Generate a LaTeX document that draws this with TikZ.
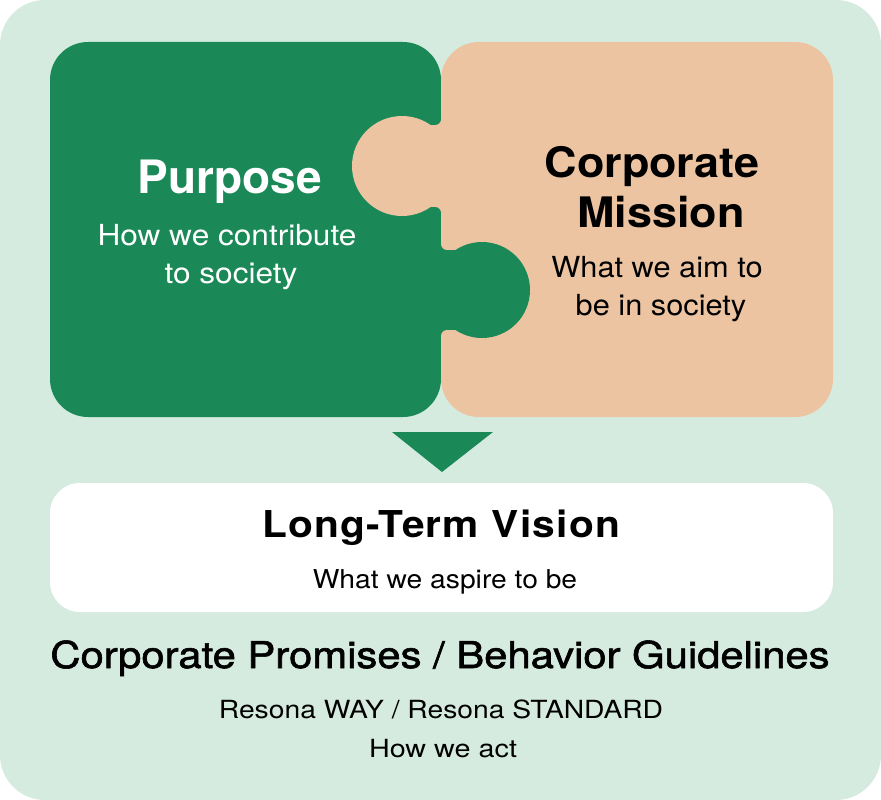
\documentclass[tikz,border=0pt]{standalone}
\usepackage{fontspec}
\setmainfont{TeX Gyre Heros}
\newfontfamily\medfont[FakeBold=1.5]{TeX Gyre Heros}
\newfontfamily\lsbold[LetterSpace=3]{TeX Gyre Heros}
\definecolor{bgmint}{HTML}{D6EBE0}
\definecolor{pgreen}{HTML}{1B8957}
\definecolor{peach}{HTML}{ECC4A2}
\newcommand{\wide}[2]{\scalebox{#1}[1]{#2}}
\begin{document}
\begin{tikzpicture}[x=1pt,y=-1pt,
  txt/.style={anchor=base, inner sep=0pt, outer sep=0pt},
  gtitle/.style={txt, text=white, font=\bfseries\fontsize{46}{46}\selectfont},
  gsub/.style={txt, text=white, font=\fontsize{29}{29}\selectfont},
  otitle/.style={txt, text=black, font=\bfseries\fontsize{42}{42}\selectfont},
  osub/.style={txt, text=black, font=\fontsize{29}{29}\selectfont},
  small/.style={txt, text=black, font=\fontsize{25}{25}\selectfont}]
\useasboundingbox (0,0) rectangle (881,800);
% background
\fill[bgmint, rounded corners=45pt] (0,0) rectangle (881,800);
% puzzle pieces
\fill[pgreen, rounded corners=38pt] (50,42) rectangle (441,417);
\fill[peach, rounded corners=38pt] (441,42) rectangle (833,417);
% peach tab into green
\fill[peach] (402,166) circle[radius=50pt];
\fill[peach] (405,125) rectangle (441,207);
\fill[peach] (435,119) rectangle (441,125);
\fill[pgreen] (435,119) circle[radius=6pt];
\fill[peach] (435,207) rectangle (441,213);
\fill[pgreen] (435,213) circle[radius=6pt];
% green tab into peach
\fill[pgreen] (482,290) circle[radius=48pt];
\fill[pgreen] (441,250) rectangle (478,330);
\fill[pgreen] (441,244) rectangle (447,250);
\fill[peach] (447,244) circle[radius=6pt];
\fill[pgreen] (441,330) rectangle (447,336);
\fill[peach] (447,336) circle[radius=6pt];
% arrow triangle
\fill[pgreen] (392,432) -- (493,432) -- (442,472) -- cycle;
% white box
\fill[white, rounded corners=30pt] (50,483) rectangle (833,612);
% texts
\node[gtitle] (purpose) at (230,193) {Purpose};
\node[gsub] (purposeA) at (227,245) {\wide{1.09}{How we contribute}};
\node[gsub] (purposeB) at (231,283) {\wide{1.09}{to society}};
\node[otitle] (missionA) at (652,177) {\wide{1.07}{Corporate}};
\node[otitle] (missionB) at (661,227) {\wide{1.07}{Mission}};
\node[osub] (missionC) at (657,277) {\wide{1.06}{What we aim to}};
\node[osub] (missionD) at (661,315) {\wide{1.06}{be in society}};
\node[txt, font=\lsbold\bfseries\fontsize{37}{37}\selectfont] (vision) at (441,537) {\wide{1.1}{Long-Term Vision}};
\node[txt, font=\fontsize{26}{26}\selectfont] (visionsub) at (445,588) {\wide{1.086}{What we aspire to be}};
\node[txt, font=\medfont\fontsize{37}{37}\selectfont] (promises) at (440,668) {\wide{1.13}{Corporate Promises / Behavior Guidelines}};
\node[small] (resona) at (441,718) {\wide{1.13}{Resona WAY / Resona STANDARD}};
\node[small] (act) at (443,757) {\wide{1.15}{How we act}};
\end{tikzpicture}
\end{document}
